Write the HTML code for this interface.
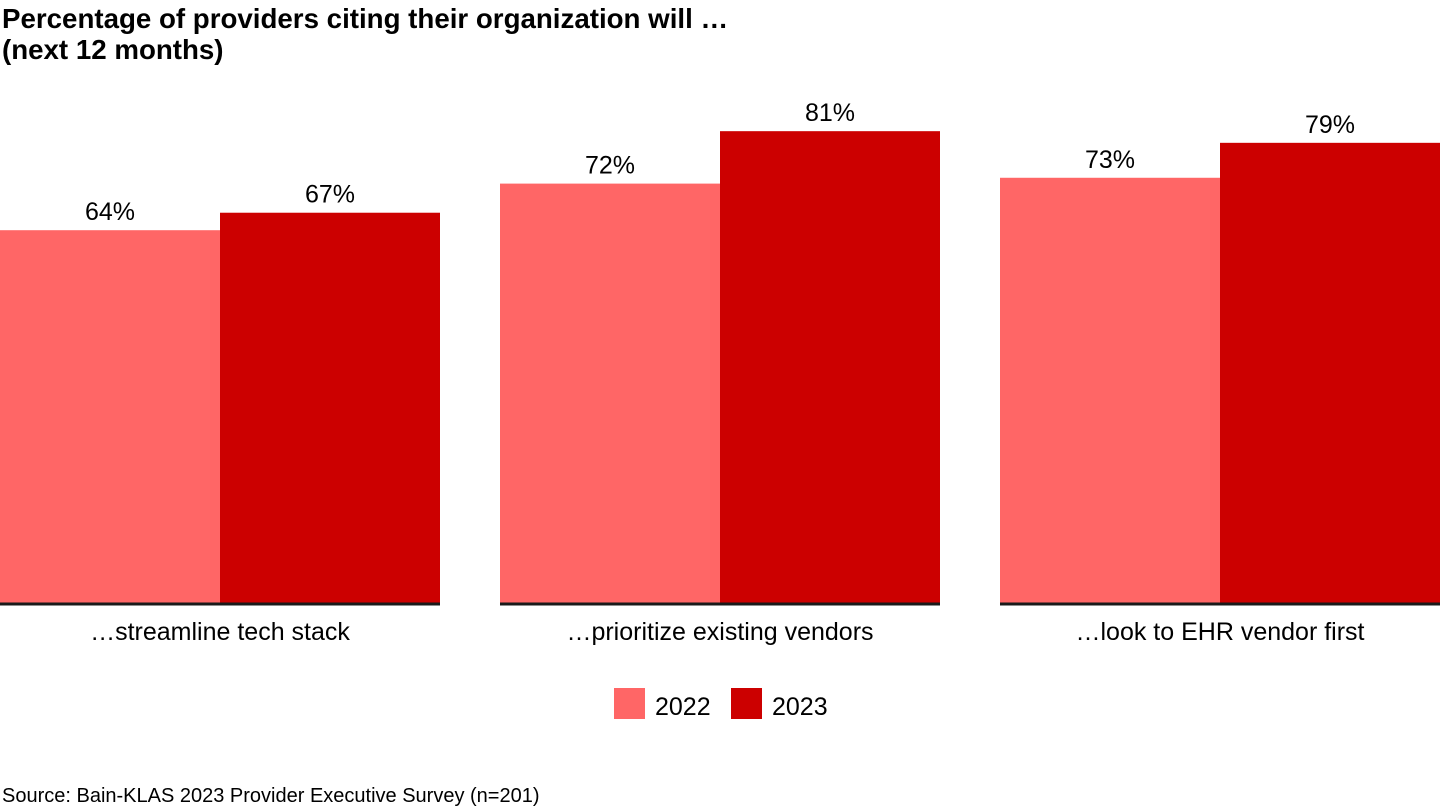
<!DOCTYPE html>
<html><head><meta charset="utf-8">
<style>
html,body{margin:0;padding:0;background:#fff;}
body{width:1440px;height:810px;position:relative;overflow:hidden;font-family:"Liberation Sans",Arial,sans-serif;color:#000;}
#title{position:absolute;left:2px;top:3px;font-weight:bold;font-size:27.7px;line-height:31px;}
#source{position:absolute;left:2px;top:785px;font-size:20px;}
svg{position:absolute;left:0;top:0;}
</style></head>
<body>
<div id="title">Percentage of providers citing their organization will …<br>(next 12 months)</div>
<svg id="chart" width="1440" height="810"></svg>
<div id="source">Source: Bain-KLAS 2023 Provider Executive Survey (n=201)</div>
<script>
const categories = ["…streamline tech stack","…prioritize existing vendors","…look to EHR vendor first"];
const series2022 = [64,72,73];
const series2023 = [67,81,79];
const seriesNames = ["2022","2023"];
const colors = ["#ff6666","#cc0000"];
const svg = document.getElementById('chart');
const NS = 'http://www.w3.org/2000/svg';
const baseY = 603, pxPer = 5.825, groupW = 440, gap = 60, barW = 220;
function y(v){return baseY - v*pxPer;}
function gx(i){return i*(groupW+gap);}
function mk(tag, attrs){const e=document.createElementNS(NS,tag);for(const k in attrs)e.setAttribute(k,attrs[k]);svg.appendChild(e);return e;}
const all=[series2022,series2023];
categories.forEach((c,i)=>{
  all.forEach((s,j)=>{
    const x=gx(i)+j*barW;
    const r=mk('rect',{x:x,y:y(s[i]),width:barW,height:baseY-y(s[i]),fill:colors[j]});
    
    
    const t=mk('text',{x:x+barW/2,y:y(s[i])-10,'text-anchor':'middle','font-size':'25','font-family':'Liberation Sans, Arial, sans-serif'});
    t.textContent=s[i]+'%';
    
    
  });
  const l=mk('line',{x1:gx(i),x2:gx(i)+groupW,y1:baseY+1,y2:baseY+1,stroke:'#1a1a1a','stroke-width':'3'});
  
  
  const ct=mk('text',{x:gx(i)+groupW/2,y:640,'text-anchor':'middle','font-size':'25','font-family':'Liberation Sans, Arial, sans-serif'});
  ct.textContent=c;
  
  
});
const legX=[614,731];
seriesNames.forEach((n,j)=>{
  const r=mk('rect',{x:legX[j],y:688,width:31,height:31,fill:colors[j]});
  
  
  const t=mk('text',{x:legX[j]+41,y:715,'font-size':'25','font-family':'Liberation Sans, Arial, sans-serif'});
  t.textContent=n;
  
  
});
</script>
</body></html>
